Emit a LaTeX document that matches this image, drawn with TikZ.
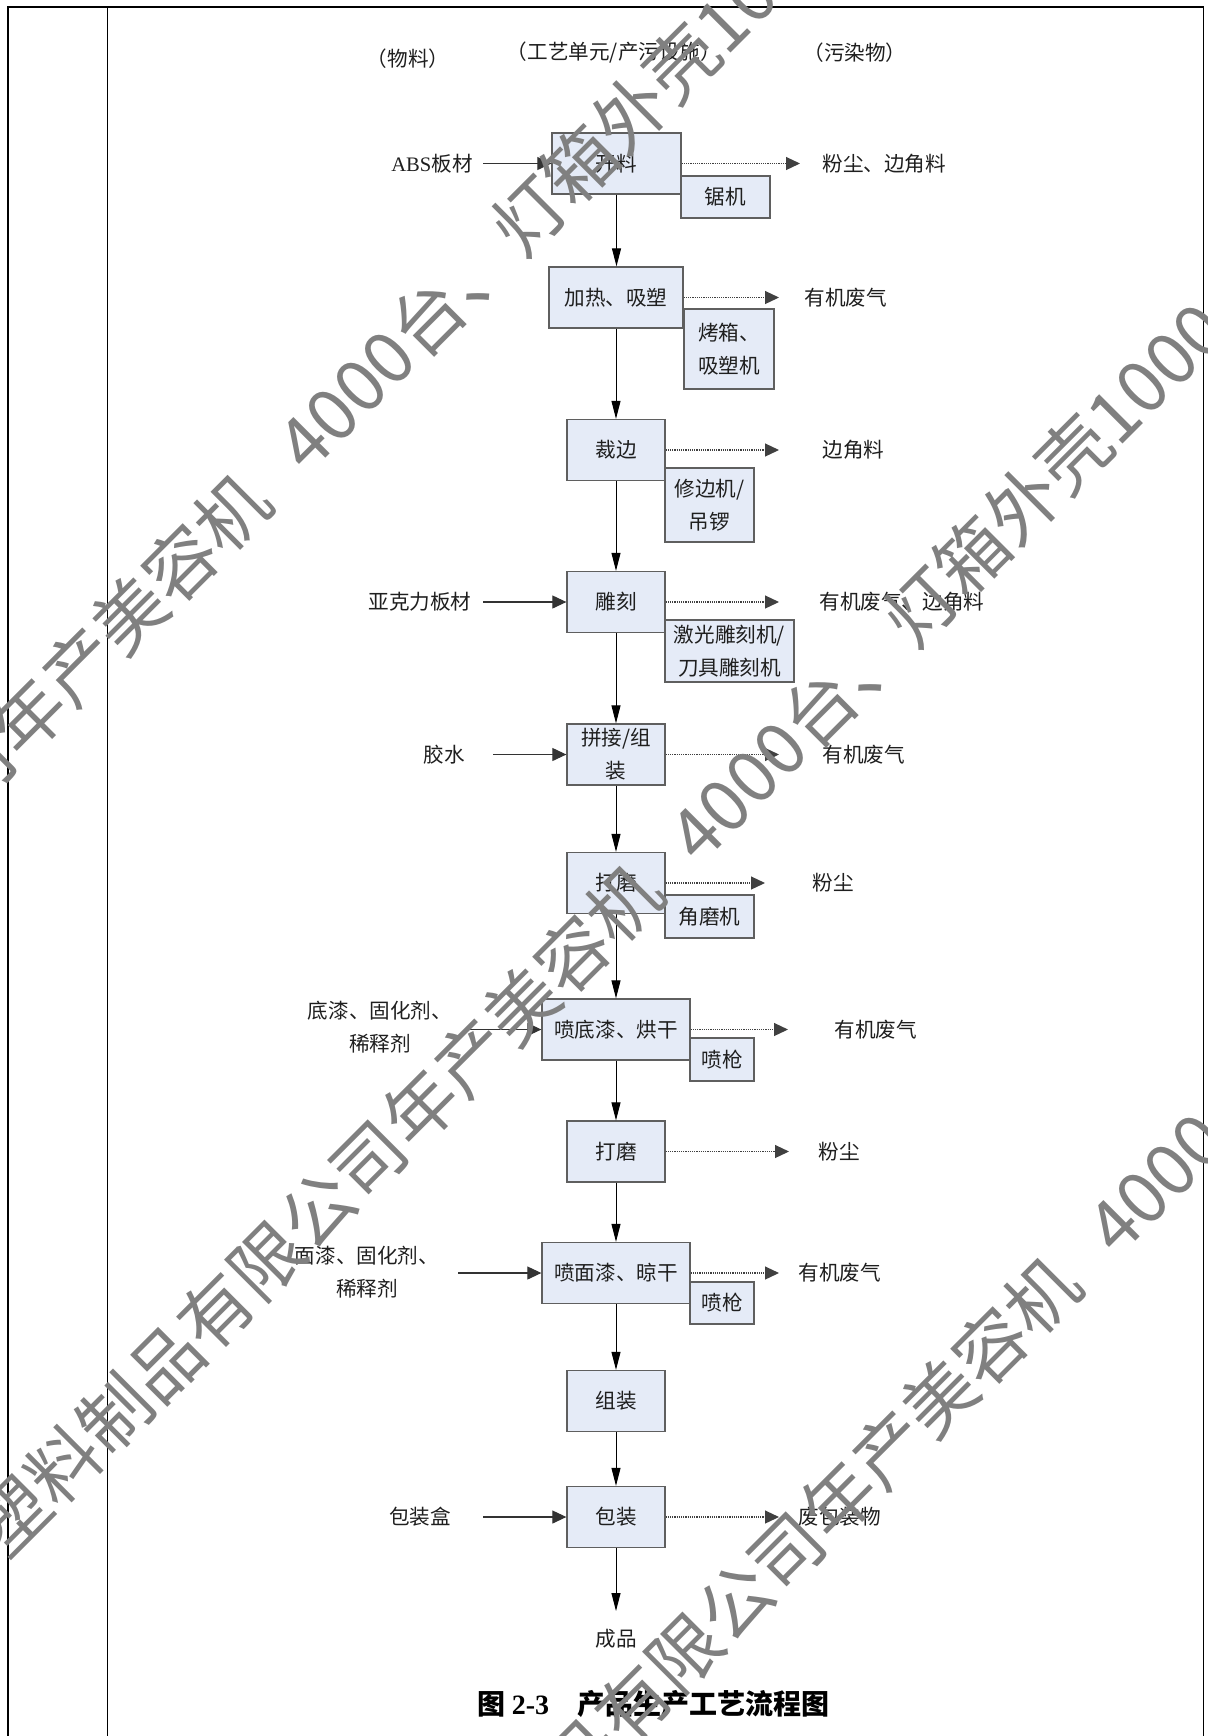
\documentclass[tikz,border=0pt]{standalone}
\usepackage{fontspec}
\setmainfont{Liberation Serif}
\newfontfamily\cjk{Noto Sans CJK SC}
\usetikzlibrary{arrows.meta}
\definecolor{boxfill}{RGB}{229,235,247}
\definecolor{boxline}{RGB}{95,95,95}
\definecolor{wmgray}{RGB}{128,128,128}
\begin{document}
\begin{tikzpicture}[x=0.5pt,y=-0.5pt,
  txt/.style={font=\cjk\fontsize{10.3}{16.5}\selectfont, inner sep=0pt, align=center, text=black!88},
  mainbox/.style={txt, draw=boxline, fill=boxfill, line width=0.65pt, minimum height=30.5pt},
  subbox/.style={mainbox},
  flow/.style={line width=0.5pt, draw=black, -{Triangle[length=9pt,width=4.5pt]}},
  inarrow/.style={line width=0.55pt, draw=black!80, -{Triangle[length=7pt,width=6.5pt]}},
  outarrow/.style={line width=0.6pt, draw=black!75, dash pattern=on 0.55pt off 0.55pt, -{Triangle[length=7pt,width=6.5pt]}},
  wmtext/.style={font=\cjk\fontsize{36}{36}\selectfont, text=wmgray, inner sep=0pt, rotate=45}
]
\useasboundingbox (0,0) rectangle (1207,1736);
\fill[white] (0,0) rectangle (1207,1736);

% frame
\draw[line width=1pt] (7,7) -- (1204,7);
\draw[line width=0.85pt] (8,7) -- (8,1736);
\draw[line width=0.5pt] (107.5,7) -- (107.5,1736);
\draw[line width=0.85pt] (1203.5,7) -- (1203.5,1736);

% headers
\node[txt] (h1) at (408,59) {（物料）};
\node[txt] (h2) at (614,53) {（工艺单元/产污设施）};
\node[txt] (h3) at (855,53) {（污染物）};

% main process boxes
\node[mainbox, minimum width=64.5pt] (kl) at (616.5,163.5) {开料};
\node[mainbox, minimum width=67pt] (jr) at (616,297.5) {加热、吸塑};
\node[mainbox, minimum width=49pt] (cb) at (616,450) {裁边};
\node[mainbox, minimum width=49pt] (dk) at (616,602) {雕刻};
\node[mainbox, minimum width=49pt] (pj) at (616,754.5) {拼接/组\\装};
\node[mainbox, minimum width=49pt] (dm1) at (616,883) {打磨};
\node[mainbox, minimum width=74pt] (pd) at (616,1029.5) {喷底漆、烘干};
\node[mainbox, minimum width=49pt] (dm2) at (616,1151.5) {打磨};
\node[mainbox, minimum width=74pt] (pm) at (616,1273) {喷面漆、晾干};
\node[mainbox, minimum width=49pt] (zz) at (616,1401) {组装};
\node[mainbox, minimum width=49pt] (bz) at (616,1517) {包装};

% equipment boxes
\node[subbox, minimum width=44.5pt, minimum height=21pt] (jj) at (725.5,197) {锯机};
\node[subbox, minimum width=45pt, minimum height=40pt] (kx) at (729,349) {烤箱、\\吸塑机};
\node[subbox, minimum width=44.5pt, minimum height=37pt] (xb) at (709.5,505) {修边机/\\吊锣};
\node[subbox, minimum width=64.5pt, minimum height=31pt] (jg) at (729.5,651) {激光雕刻机/\\刀具雕刻机};
\node[subbox, minimum width=44.5pt, minimum height=21.5pt] (jm) at (709.5,916.5) {角磨机};
\node[subbox, minimum width=32pt, minimum height=21.5pt] (pq1) at (722,1059.5) {喷枪};
\node[subbox, minimum width=32pt, minimum height=21pt] (pq2) at (722,1303) {喷枪};

% main flow
\draw[flow] (kl.south) -- (kl.south |- jr.north);
\draw[flow] (jr.south) -- (cb.north);
\draw[flow] (cb.south) -- (dk.north);
\draw[flow] (dk.south) -- (pj.north);
\draw[flow] (pj.south) -- (dm1.north);
\draw[flow] (dm1.south) -- (pd.north);
\draw[flow] (pd.south) -- (dm2.north);
\draw[flow] (dm2.south) -- (pm.north);
\draw[flow] (pm.south) -- (zz.north);
\draw[flow] (zz.south) -- (bz.north);
\coordinate (cp) at (616,1611);
\draw[flow] (bz.south) -- (cp);
\node[txt] (cpl) at (616,1639) {成品};

% materials
\node[txt] (m1) at (432,163.5) {{\rmfamily ABS}板材};
\node[txt] (m2) at (420,602) {亚克力板材};
\node[txt] (m3) at (444,754.5) {胶水};
\node[txt] (m4) at (380,1027) {底漆、固化剂、\\稀释剂};
\node[txt] (m5) at (367,1272) {面漆、固化剂、\\稀释剂};
\node[txt] (m6) at (420,1517) {包装盒};
\coordinate (s1) at (483,163.5);
\coordinate (s2) at (483,602);
\coordinate (s3) at (493,754.5);
\coordinate (s4) at (467,1029.5);
\coordinate (s5) at (458,1273);
\coordinate (s6) at (483,1517);
\draw[inarrow] (s1) -- (kl.west);
\draw[inarrow] (s2) -- (dk.west);
\draw[inarrow] (s3) -- (pj.west);
\draw[inarrow] (s4) -- (pd.west);
\draw[inarrow] (s5) -- (pm.west);
\draw[inarrow] (s6) -- (bz.west);

% pollutants
\coordinate (t1) at (800,163.5);
\coordinate (t2) at (779,297.5);
\coordinate (t3) at (779,450);
\coordinate (t4) at (779,602);
\coordinate (t5) at (779,754.5);
\coordinate (t6) at (765,883);
\coordinate (t7) at (788,1029.5);
\coordinate (t8) at (789,1151.5);
\coordinate (t9) at (779,1273);
\coordinate (t10) at (779,1517);
\draw[outarrow] (kl.east) -- (t1);
\draw[outarrow] (jr.east) -- (t2);
\draw[outarrow] (cb.east) -- (t3);
\draw[outarrow] (dk.east) -- (t4);
\draw[outarrow] (pj.east) -- (t5);
\draw[outarrow] (dm1.east) -- (t6);
\draw[outarrow] (pd.east) -- (t7);
\draw[outarrow] (dm2.east) -- (t8);
\draw[outarrow] (pm.east) -- (t9);
\draw[outarrow] (bz.east) -- (t10);
\node[txt, anchor=west] (o1) at (822,163.5) {粉尘、边角料};
\node[txt, anchor=west] (o2) at (804,297.5) {有机废气};
\node[txt, anchor=west] (o3) at (822,450) {边角料};
\node[txt, anchor=west] (o4) at (819,602) {有机废气、边角料};
\node[txt, anchor=west] (o5) at (822,754.5) {有机废气};
\node[txt, anchor=west] (o6) at (812,883) {粉尘};
\node[txt, anchor=west] (o7) at (834,1029.5) {有机废气};
\node[txt, anchor=west] (o8) at (818,1151.5) {粉尘};
\node[txt, anchor=west] (o9) at (798,1273) {有机废气};
\node[txt, anchor=west] (o10) at (798,1517) {废包装物};

% caption
\node[txt, anchor=west, font=\cjk\bfseries\fontsize{14}{16}\selectfont, text=black] (cap) at (477,1704) {图 {\rmfamily\bfseries 2-3}\hspace{1em}产品生产工艺流程图};

% watermark
\begin{scope}
\clip (0,0) rectangle (1207,1736);
\foreach \X/\Y/\n in {28/717/a, 420/1108/b, 838/1500/c}{
  \node[wmtext, anchor=west] (wm\n1) at (\X-25.5,\Y+25.5) {年产美容机\hspace{0.62em}4000台、灯箱外壳1000};
  \node[wmtext, anchor=east] (wm\n2) at (\X-25.5,\Y+25.5) {塑料制品有限公司};
}
\end{scope}
\end{tikzpicture}
\end{document}
